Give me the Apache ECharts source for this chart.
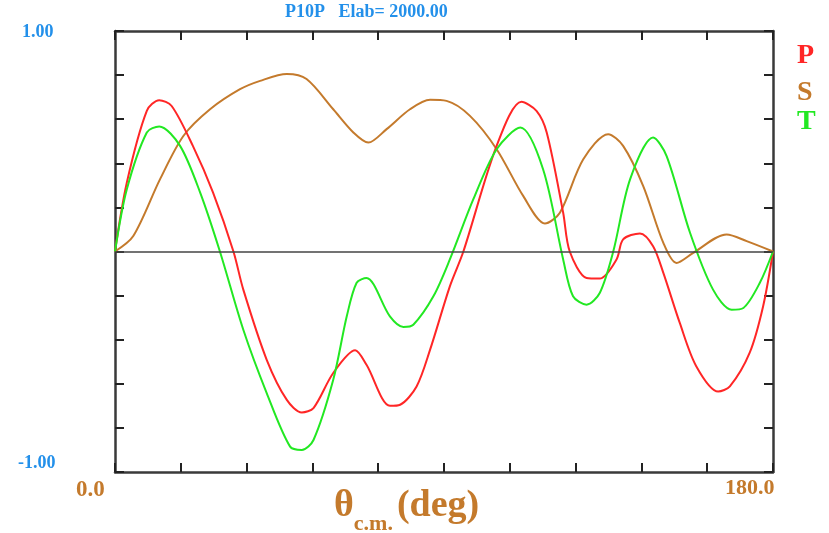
<!DOCTYPE html>
<html><head><meta charset="utf-8">
<script src="https://cdn.jsdelivr.net/npm/echarts@6/dist/echarts.min.js"></script>
<style>html,body{margin:0;padding:0;background:#fff}#c{width:829px;height:533px}</style>
</head><body><div id="c"></div>
<script>
const titleText = 'P10P   Elab= 2000.00';
const seriesNames = ['P', 'S', 'T'];
const pX = [0, 3.2, 8.7, 12.1, 15.5, 21.3, 26.8, 32.4, 35.1, 41.5, 47, 51.1, 54.3, 59.7, 65.7, 68.8, 75.2, 78, 82.5, 86.2, 91.6, 95.3, 104.4, 111.2, 115.3, 118.1, 122.6, 124.4, 129, 132.6, 137.2, 139, 143.6, 147.2, 150, 154.5, 159, 165, 168.2, 173.6, 177.3, 180];
const pY = [0, 0.31, 0.638, 0.686, 0.66, 0.479, 0.268, 0, -0.173, -0.491, -0.673, -0.73, -0.71, -0.551, -0.448, -0.514, -0.70, -0.695, -0.612, -0.445, -0.158, 0, 0.479, 0.679, 0.638, 0.54, 0.176, 0, -0.12, -0.123, -0.036, 0.055, 0.082, 0.024, -0.097, -0.324, -0.52, -0.635, -0.612, -0.46, -0.248, 0];
const sX = [0, 5, 12.3, 18.7, 26, 34.2, 39.7, 47, 52.4, 59.7, 65.2, 69.3, 74.3, 80.7, 86.2, 90.7, 97.1, 104.4, 111.7, 117.6, 121.7, 128.1, 134.9, 139, 144.5, 150, 153.6, 158.2, 167.3, 172.8, 180];
const sY = [0, 0.07, 0.327, 0.524, 0.645, 0.736, 0.774, 0.805, 0.782, 0.645, 0.54, 0.494, 0.555, 0.645, 0.688, 0.683, 0.615, 0.464, 0.251, 0.127, 0.176, 0.418, 0.532, 0.479, 0.297, 0.039, -0.052, -0.006, 0.077, 0.047, 0];
const tX = [0, 3.2, 8.7, 12.1, 17.8, 23.3, 28.7, 35.1, 41.5, 47.9, 51.1, 54.3, 59.7, 63.4, 66.1, 68.8, 75.2, 78.9, 81.6, 87.1, 91.6, 98, 104.4, 110.9, 117.1, 122.6, 125.3, 129, 132.6, 136.3, 140.9, 147.2, 150.9, 157.3, 163.6, 168.7, 171.9, 176.4, 180];
const tY = [0, 0.28, 0.54, 0.567, 0.479, 0.267, 0, -0.355, -0.642, -0.885, -0.9, -0.855, -0.582, -0.294, -0.142, -0.12, -0.294, -0.342, -0.332, -0.203, -0.036, 0.236, 0.464, 0.562, 0.373, -0.036, -0.203, -0.241, -0.188, 0, 0.327, 0.517, 0.433, 0.085, -0.173, -0.264, -0.256, -0.142, 0];
const yTickLabels = ['1.00', '-1.00'];
const xTickLabels = ['0.0', '180.0'];

const RED = '#ff2626', BROWN = '#c47a2c', GREEN = '#22e822', BLUE = '#2390ea';
const SERIF = '"Liberation Serif","Times New Roman",serif';
const pair = (xs, ys) => xs.map((x, i) => [x, ys[i]]);

const chart = echarts.init(document.getElementById('c'), null, {renderer: 'canvas'});
const axisLine = {show: true, onZero: false, lineStyle: {color: '#3a3a3a', width: 2.5}};
const tick = {show: true, inside: true, length: 9, lineStyle: {color: '#222', width: 2}};
chart.setOption({
  animation: false,
  backgroundColor: '#fff',
  title: {text: titleText, left: 285, top: 3, padding: 0, textStyle: {color: BLUE, fontFamily: SERIF, fontSize: 18, fontWeight: 'bold'}},
  grid: {left: 115, right: 56, top: 31, bottom: 61},
  xAxis: [
    {type: 'value', min: 0, max: 180, interval: 18, position: 'bottom',
     axisLine: axisLine, axisTick: tick, axisLabel: {show: false}, splitLine: {show: false}},
    {type: 'value', min: 0, max: 180, interval: 18, position: 'top',
     axisLine: axisLine, axisTick: tick, axisLabel: {show: false}, splitLine: {show: false}}
  ],
  yAxis: [
    {type: 'value', min: -1, max: 1, interval: 0.2, position: 'left',
     axisLine: axisLine, axisTick: tick, axisLabel: {show: false}, splitLine: {show: false}},
    {type: 'value', min: -1, max: 1, interval: 0.2, position: 'right',
     axisLine: axisLine, axisTick: tick, axisLabel: {show: false}, splitLine: {show: false}}
  ],
  graphic: [
    {type: 'text', left: 22, top: 23, style: {text: yTickLabels[0], fill: BLUE, font: 'bold 18px ' + SERIF}},
    {type: 'text', left: 18, top: 454, style: {text: yTickLabels[1], fill: BLUE, font: 'bold 18px ' + SERIF}},
    {type: 'text', left: 76, top: 479, style: {text: xTickLabels[0], fill: BROWN, font: 'bold 23px ' + SERIF}},
    {type: 'text', left: 725, top: 477, style: {text: xTickLabels[1], fill: BROWN, font: 'bold 22px ' + SERIF}},
    {type: 'text', left: 334, top: 487, style: {
      text: '{t|θ}{s|c.m.}{t|(deg)}',
      rich: {
        t: {font: 'bold 38px ' + SERIF, fill: BROWN, lineHeight: 40, verticalAlign: 'top'},
        s: {font: 'bold 22px ' + SERIF, fill: BROWN, lineHeight: 22, verticalAlign: 'top', padding: [26, 4, 0, 0]}
      }}},
    {type: 'text', left: 797, top: 42, style: {text: seriesNames[0], fill: RED, font: 'bold 28px ' + SERIF}},
    {type: 'text', left: 797, top: 79, style: {text: seriesNames[1], fill: BROWN, font: 'bold 28px ' + SERIF}},
    {type: 'text', left: 797, top: 108, style: {text: seriesNames[2], fill: GREEN, font: 'bold 28px ' + SERIF}}
  ],
  series: [
    {name: seriesNames[0], type: 'line', data: pair(pX, pY), showSymbol: false, smooth: 0.3,
     lineStyle: {color: RED, width: 2}, itemStyle: {color: RED}, z: 3,
     markLine: {silent: true, symbol: 'none', label: {show: false}, lineStyle: {color: '#444', type: 'solid', width: 1.5}, data: [{yAxis: 0}]}},
    {name: seriesNames[1], type: 'line', data: pair(sX, sY), showSymbol: false, smooth: 0.3,
     lineStyle: {color: BROWN, width: 2}, itemStyle: {color: BROWN}, z: 2},
    {name: seriesNames[2], type: 'line', data: pair(tX, tY), showSymbol: false, smooth: 0.3,
     lineStyle: {color: GREEN, width: 2}, itemStyle: {color: GREEN}, z: 3}
  ]
});
</script></body></html>
